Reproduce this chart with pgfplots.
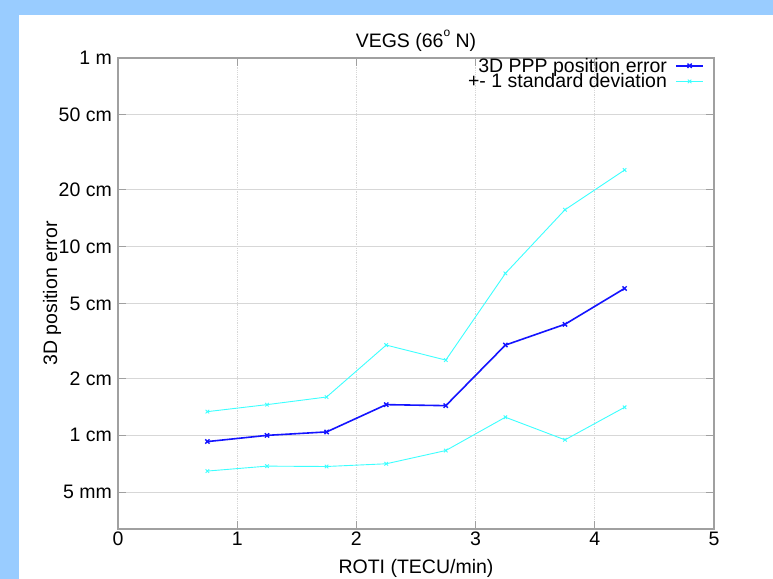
\documentclass[border=0pt]{standalone}
\usepackage{pgfplots}
\pgfplotsset{compat=1.18}
\usepackage{fontspec}
\setmainfont{Liberation Sans}
\definecolor{bgblue}{RGB}{153,204,255}
\definecolor{gridgray}{RGB}{215,215,215}
\definecolor{axgray}{RGB}{160,160,160}
\definecolor{myblue}{RGB}{20,20,255}
\definecolor{mycyan}{RGB}{60,255,255}
\begin{document}
\begin{tikzpicture}[font=\fontsize{19.5bp}{22bp}\selectfont]
\path[use as bounding box] (0,0) rectangle (773bp,579bp);
\fill[bgblue] (0,0) rectangle (773bp,579bp);
\fill[white] (19bp,0) rectangle (773bp,564bp);
\begin{axis}[
  at={(118bp,50bp)}, anchor=south west,
  scale only axis, width=596bp, height=471bp,
  xmin=0, xmax=5, ymin=0.319, ymax=100, ymode=log,
  xtick={0,1,2,3,4,5},
  ytick={0.5,1,2,5,10,20,50,100},
  yticklabels={5 mm,1 cm,2 cm,5 cm,10 cm,20 cm,50 cm,1 m},
  yminorticks=false,
  /pgf/number format/assume math mode=true,
  axis line style={axgray, line width=1.2bp},
  tick style={axgray, line width=0.9bp},
  major tick length=8bp,
  tick align=inside,
  grid=major,
  major grid style={gridgray, line width=0.8bp},
  x grid style={densely dotted},
  xticklabel style={anchor=north, inner sep=0pt, yshift=-3bp},
  yticklabel style={anchor=east, inner sep=0pt, xshift=-6bp},
  xlabel={ROTI (TECU/min)},
  ylabel={3D position error},
  title={VEGS (66\raisebox{0.55em}{\fontsize{12bp}{12bp}\selectfont o} N)},
  title style={at={(axis description cs:0.5,1)}, anchor=base, yshift=5bp, inner sep=0pt},
  xlabel style={at={(axis description cs:0.5,0)}, anchor=base, yshift=-44bp, inner sep=0pt},
  ylabel style={at={(axis description cs:0,0.5)}, anchor=base, yshift=61bp, inner sep=0pt},
  legend style={draw=none, fill=none, at={(axis description cs:1,1)}, anchor=north east,
    xshift=-10bp, row sep=0bp, column sep=0pt, inner sep=0pt, outer sep=0pt,
    nodes={inner sep=0pt, outer sep=0pt}},
  legend cell align=right,
  legend plot pos=right,
  legend image code/.code={%
    \path (0cm,0cm) (1.25cm,0cm);
    \draw[mark repeat=2, mark phase=2] plot coordinates {(0.3cm,0cm) (0.77cm,0cm) (1.25cm,0cm)};},
]
\addplot[myblue, line width=1.6bp, mark=x, mark size=3bp, mark options={line width=1.4bp}] coordinates {
(0.75,0.927) (1.25,1.0) (1.75,1.043) (2.25,1.455) (2.75,1.437) (3.25,3.01) (3.75,3.88) (4.25,6.01)};
\addlegendentry{3D PPP position error}
\addplot[mycyan, line width=0.9bp, mark=x, mark size=2.5bp] coordinates {
(0.75,1.336) (1.25,1.455) (1.75,1.597) (2.25,3.01) (2.75,2.506) (3.25,7.22) (3.75,15.7) (4.25,25.5)};
\addlegendentry{+- 1 standard deviation}
\addplot[mycyan, line width=0.9bp, mark=x, mark size=2.5bp, forget plot] coordinates {
(0.75,0.647) (1.25,0.687) (1.75,0.684) (2.25,0.707) (2.75,0.831) (3.25,1.248) (3.75,0.947) (4.25,1.409)};
\end{axis}
\end{tikzpicture}
\end{document}
